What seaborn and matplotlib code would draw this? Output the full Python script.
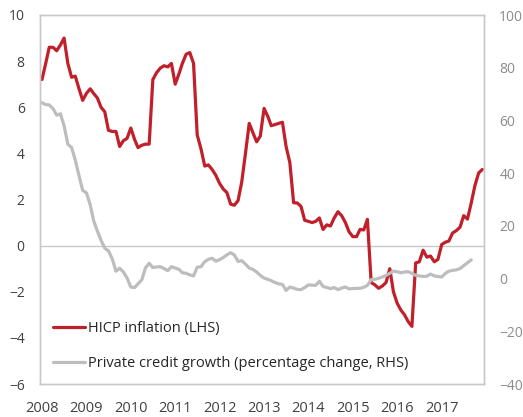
import pandas as pd
import matplotlib.pyplot as plt
import matplotlib.dates as mdates
import seaborn as sns

# HICP inflation, monthly Jan 2008 - Dec 2017 (LHS, %)
hicp = [7.2, 7.9, 8.6, 8.6, 8.45, 8.7, 9.0, 7.9, 7.3, 7.35, 6.8, 6.3,
        6.6, 6.8, 6.6, 6.4, 6.0, 5.8, 5.0, 4.95, 4.95, 4.3, 4.55, 4.65,
        5.1, 4.6, 4.25, 4.35, 4.4, 4.4, 7.2, 7.5, 7.7, 7.8, 7.75, 7.9,
        7.0, 7.45, 7.9, 8.3, 8.37, 7.9, 4.8, 4.2, 3.45, 3.5, 3.3, 3.05,
        2.7, 2.45, 2.3, 1.8, 1.75, 1.95, 2.75, 4.0, 5.3, 4.9, 4.5, 4.75,
        5.95, 5.6, 5.2, 5.25, 5.3, 5.35, 4.3, 3.6, 1.86, 1.85, 1.7, 1.1,
        1.05, 1.0, 1.05, 1.2, 0.7, 0.9, 0.85, 1.2, 1.47, 1.3, 1.0, 0.6,
        0.39, 0.39, 0.7, 0.68, 1.14, -1.6, -1.7, -1.85, -1.75, -1.6, -1.0, -2.0,
        -2.5, -2.8, -3.0, -3.3, -3.5, -0.75, -0.7, -0.2, -0.5, -0.45, -0.7, -0.6,
        0.05, 0.15, 0.2, 0.55, 0.65, 0.8, 1.3, 1.15, 1.85, 2.6, 3.15, 3.3]

# private credit growth, monthly Jan 2008 - Sep 2017 (RHS, % change)
credit = [66.7, 66.0, 65.9, 64.5, 62.0, 62.5, 58.0, 51.0, 49.7, 45.0, 39.0, 33.5,
          32.5, 28.0, 22.0, 18.0, 14.5, 11.5, 10.5, 7.5, 2.8, 3.9, 2.5, 0.2,
          -3.2, -3.4, -2.0, -0.5, 4.0, 5.8, 4.2, 4.4, 4.5, 3.8, 3.0, 4.5,
          4.0, 3.5, 2.2, 2.0, 1.4, 1.0, 4.3, 4.5, 6.4, 7.3, 7.7, 6.6,
          7.2, 8.0, 9.0, 9.8, 9.0, 6.5, 6.8, 5.5, 4.0, 3.5, 2.5, 1.2,
          0.2, -0.3, -0.8, -1.5, -2.0, -2.2, -4.5, -3.2, -3.6, -4.1, -4.2, -3.4,
          -2.4, -2.5, -2.6, -1.0, -3.0, -3.4, -3.8, -3.4, -4.2, -3.6, -3.2, -3.9,
          -3.8, -3.7, -3.7, -3.3, -2.6, -0.4, -0.3, 0.1, 0.6, 1.2, 2.0, 2.8,
          2.6, 2.2, 2.5, 2.6, 2.0, 1.2, 1.0, 0.8, 0.9, 1.7, 1.0, 0.8,
          0.6, 2.0, 2.8, 3.1, 3.3, 3.8, 4.9, 6.0, 7.1]

labels = ["HICP inflation (LHS)", "Private credit growth (percentage change, RHS)"]

red = "#C0202A"
grey = "#BDBDBD"
frame = "#C8C8C8"

sns.set_style("white")
plt.rcParams['font.family'] = ['Open Sans', 'DejaVu Sans']

dates_h = pd.date_range("2008-01-01", periods=len(hicp), freq="MS")
dates_c = pd.date_range("2008-01-01", periods=len(credit), freq="MS")
df_h = pd.DataFrame({"date": dates_h, "value": hicp})
df_c = pd.DataFrame({"date": dates_c, "value": credit})

fig = plt.figure(figsize=(5.23, 4.17), dpi=100)
ax = fig.add_axes([40 / 523, 1 - 384 / 417, 444 / 523, 369 / 417])
ax2 = ax.twinx()

sns.lineplot(data=df_h, x="date", y="value", ax=ax, color=red, linewidth=2.3)
sns.lineplot(data=df_c, x="date", y="value", ax=ax2, color=grey, linewidth=2.3)

ax.axhline(0, color=frame, linewidth=1, zorder=0)

ax.set_ylim(-6, 10)
ax.set_yticks(range(-6, 11, 2))
ax2.set_ylim(-40, 100)
ax2.set_yticks(range(-40, 101, 20))

ax.set_xlim(pd.Timestamp("2007-12-16"), pd.Timestamp("2017-12-15"))
ax.xaxis.set_major_locator(mdates.YearLocator())
ax.xaxis.set_major_formatter(mdates.DateFormatter("%Y"))

for a in (ax, ax2):
    a.set_xlabel("")
    a.set_ylabel("")
    for s in a.spines.values():
        s.set_color(frame)
        s.set_linewidth(1)
ax.tick_params(axis="y", length=0, pad=11, labelsize=10, labelcolor="#404040")
ax.tick_params(axis="x", length=0, pad=12, labelsize=10.5, labelcolor="#404040")
ax2.tick_params(axis="y", length=0, pad=11, labelsize=10, labelcolor="#8C8C8C")

handles = [ax.get_lines()[0], ax2.get_lines()[0]]
ax2.legend(handles, labels, loc="center left", bbox_to_anchor=(53 / 523, 1 - 346 / 417),
           bbox_transform=fig.transFigure, frameon=False, fontsize=10.5,
           handlelength=2.2, handletextpad=0.2, borderpad=0, borderaxespad=0,
           labelspacing=1.4, labelcolor="#262626")

fig.savefig("out.png", dpi=100)
